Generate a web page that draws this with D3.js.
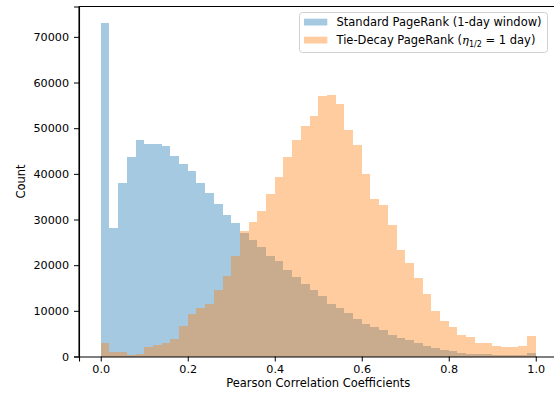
<!DOCTYPE html>
<html>
<head>
<meta charset="utf-8">
<script src="https://cdn.jsdelivr.net/npm/d3@7"></script>
<style>
  body { margin: 0; background: #fff; }
  svg { display: block; }
  text { font-family: "DejaVu Sans", sans-serif; fill: #000; }
</style>
</head>
<body>
<svg id="chart" width="554" height="398"></svg>
<script>
// Histogram bins: 50 bins of width 0.02 from 0 to 1
const binStart = 0, binWidth = 0.02;
const standardCounts = [
  73000, 28100, 38050, 43700, 47500, 46450, 46600, 46000, 44000, 42150,
  40700, 38050, 35800, 33300, 31050, 29300, 27150, 25600, 24000, 22050,
  20950, 18950, 17350, 15950, 14500, 13250, 11450, 10700, 9550, 8150,
  7130, 6540, 5880, 4780, 4060, 3620, 2960, 2370, 1930, 1430,
  1140, 840, 550, 620, 480, 400, 400, 400, 400, 770
];
const tieDecayCounts = [
  2900, 940, 920, 350, 550, 2050, 2520, 2960, 3900, 6750,
  9300, 10550, 11500, 14500, 17650, 22000, 27550, 29550, 31850, 35650,
  39300, 43700, 47400, 50400, 52750, 57100, 57350, 55400, 49600, 46300,
  39900, 34550, 33200, 28700, 23400, 20500, 17300, 13700, 9900, 7850,
  6400, 4700, 4350, 2960, 2900, 2370, 2150, 2150, 2370, 4560
];
const seriesNames = ["Standard PageRank (1-day window)", "Tie-Decay PageRank"];
const seriesColors = ["#1f77b4", "#ff7f0e"];
const xTicks = [0, 0.2, 0.4, 0.6, 0.8, 1.0];
const yTicks = [0, 10000, 20000, 30000, 40000, 50000, 60000, 70000];
const xLabel = "Pearson Correlation Coefficients";
const yLabel = "Count";

const svg = d3.select("#chart");
const mLeft = 79, mTop = 6.5, mBottom = 356.5;
const x = d3.scaleLinear().domain([-0.05, 1.05]).range([mLeft, mLeft + 1.1 * 435]);
const ymax = d3.max([...standardCounts, ...tieDecayCounts]) * 1.05;
const y = d3.scaleLinear().domain([0, ymax]).range([mBottom, mTop]);

function drawSeries(counts, color) {
  svg.append("g").attr("shape-rendering", "crispEdges")
    .selectAll("rect").data(counts).join("rect")
    .attr("x", (d, i) => x(binStart + i * binWidth))
    .attr("width", (d, i) => x(binStart + (i + 1) * binWidth) - x(binStart + i * binWidth))
    .attr("y", d => y(d))
    .attr("height", d => y(0) - y(d))
    .attr("fill", color)
    .attr("fill-opacity", 0.4);
}
drawSeries(standardCounts, seriesColors[0]);
drawSeries(tieDecayCounts, seriesColors[1]);

// Axes
const xAxis = svg.append("g").attr("transform", `translate(0,${mBottom})`)
  .call(d3.axisBottom(x).tickValues(xTicks).tickFormat(d3.format(".1f")).tickSizeOuter(0).tickSize(5).tickPadding(4));
const yAxis = svg.append("g").attr("transform", `translate(${mLeft},0)`)
  .call(d3.axisLeft(y).tickValues(yTicks).tickFormat(d3.format("d")).tickSizeOuter(0).tickSize(5).tickPadding(5));
[xAxis, yAxis].forEach(a => {
  a.selectAll("text").attr("font-family", "DejaVu Sans").attr("font-size", "11.2px").attr("fill", "#000");
  a.selectAll("line").attr("stroke", "#000").attr("stroke-width", 1);
  a.select(".domain").attr("stroke", "#000").attr("stroke-width", 1.1);
});
// top spine
svg.append("line").attr("x1", mLeft).attr("x2", 554).attr("y1", mTop).attr("y2", mTop)
  .attr("stroke", "#000").attr("stroke-width", 1.1);
// left spine full height
svg.append("line").attr("x1", mLeft).attr("x2", mLeft).attr("y1", mTop).attr("y2", mBottom)
  .attr("stroke", "#000").attr("stroke-width", 1.1);

svg.append("text").attr("x", x(0.5)).attr("y", 386.5).attr("text-anchor", "middle")
  .attr("font-size", "11.5px").text(xLabel);
svg.append("text").attr("transform", `translate(25,${(mTop + mBottom) / 2}) rotate(-90)`)
  .attr("text-anchor", "middle").attr("font-size", "11.5px").text(yLabel);

// Legend
const lg = svg.append("g");
lg.append("rect").attr("x", 299.5).attr("y", 12.5).attr("width", 248).attr("height", 40).attr("rx", 3)
  .attr("fill", "#fff").attr("fill-opacity", 0.8).attr("stroke", "#d0d0d0").attr("stroke-width", 1);
[0, 1].forEach(i => {
  const cy = 22 + i * 18;
  lg.append("rect").attr("x", 304).attr("y", cy - 3.3).attr("width", 23.3).attr("height", 6.8)
    .attr("fill", seriesColors[i]).attr("fill-opacity", 0.4);
});
lg.append("text").attr("x", 336.5).attr("y", 26.2).attr("font-size", "11.5px").text(seriesNames[0]);
const t2 = lg.append("text").attr("x", 336.5).attr("y", 44.2).attr("font-size", "11.5px");
t2.append("tspan").text(seriesNames[1] + " (");
t2.append("tspan").attr("font-style", "italic").attr("font-family", "DejaVu Serif").text("η");
t2.append("tspan").attr("font-size", "8px").attr("dy", 2.5).text("1/2");
t2.append("tspan").attr("dy", -2.5).text(" = 1 day)");
</script>
</body>
</html>
